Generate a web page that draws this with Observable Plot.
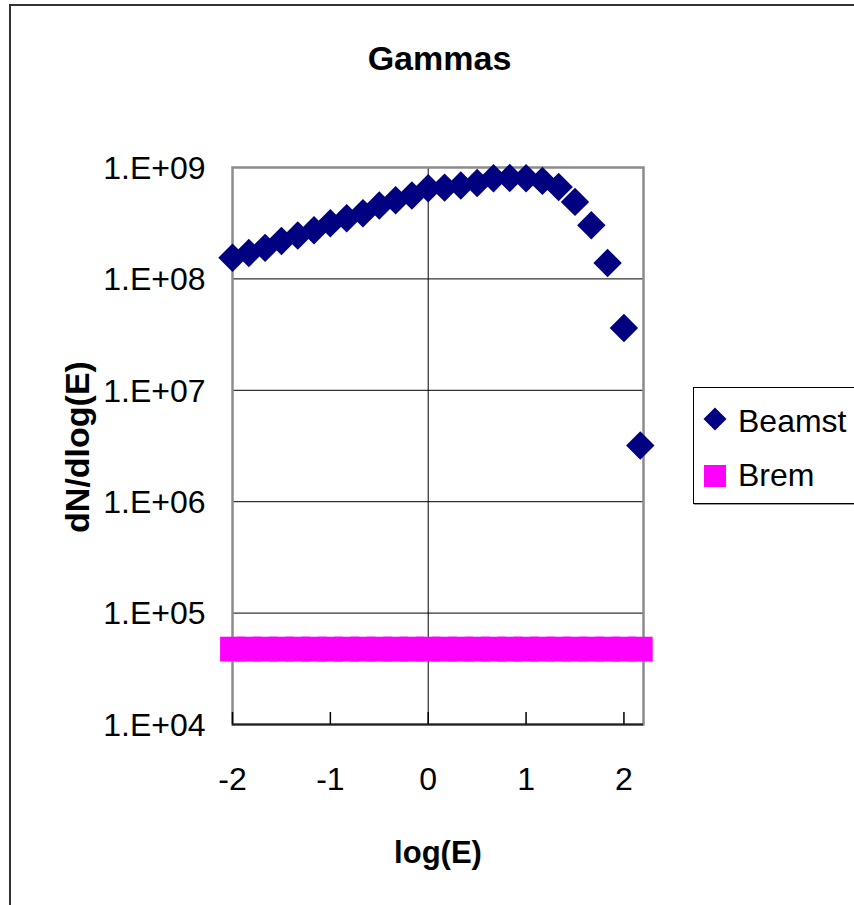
<!DOCTYPE html>
<html>
<head>
<meta charset="utf-8">
<script src="https://cdn.jsdelivr.net/npm/d3@7"></script>
<script src="https://cdn.jsdelivr.net/npm/@observablehq/plot@0.6"></script>
<style>
  html, body { margin: 0; padding: 0; background: #fff; overflow: hidden; }
  #page { position: relative; width: 854px; height: 905px; overflow: hidden;
          font-family: "Liberation Sans", Arial, Helvetica, sans-serif; }
  #outer { position: absolute; left: 9px; top: 4px; width: 900px; height: 960px;
           border: 2px solid #333; box-sizing: border-box; }
  #chart { position: absolute; left: 0; top: 0; }
  #title { position: absolute; left: 0; width: 879px; top: 41px; text-align: center;
           font-weight: bold; font-size: 34px; line-height: 1; color: #000; }
  #legend { position: absolute; left: 693px; top: 387px; width: 220px; height: 117px;
            border: 1px solid #000; box-sizing: border-box; background: #fff;
            box-shadow: 1px 1px 0 #999; }
  .lg-sym { position: absolute; }
  .lg-txt { position: absolute; left: 44px; font-size: 32px; line-height: 1; color: #000; white-space: nowrap; }
</style>
</head>
<body>
<div id="page">
  <div id="outer"></div>
  <div id="chart"></div>
  <div id="title"></div>
  <div id="legend"></div>
</div>
<script>
// ---- data ----
const titleText = "Gammas";
const xLabel = "log(E)";
const yLabel = "dN/dlog(E)";
const seriesNames = ["Beamst", "Brem"];
const seriesColors = ["#000080", "#ff00ff"];

const logE = [-2, -1.833, -1.667, -1.5, -1.333, -1.167, -1, -0.833, -0.667, -0.5, -0.333, -0.167,
              0, 0.167, 0.333, 0.5, 0.667, 0.833, 1, 1.167, 1.333, 1.5, 1.667, 1.833, 2, 2.167];
const beamst = [1.55e8, 1.71e8, 1.90e8, 2.19e8, 2.45e8, 2.73e8, 3.16e8, 3.50e8, 3.88e8, 4.56e8, 5.08e8, 5.60e8,
                6.52e8, 6.60e8, 6.89e8, 7.27e8, 8.01e8, 8.05e8, 8.00e8, 7.58e8, 6.69e8, 4.91e8, 3.03e8, 1.39e8, 3.62e7, 3.20e6];
const brem = [4.75e4, 4.75e4, 4.75e4, 4.75e4, 4.75e4, 4.75e4, 4.75e4, 4.75e4, 4.75e4, 4.75e4, 4.75e4, 4.75e4,
              4.75e4, 4.75e4, 4.75e4, 4.75e4, 4.75e4, 4.75e4, 4.75e4, 4.75e4, 4.75e4, 4.75e4, 4.75e4, 4.75e4, 4.75e4, 4.75e4];

const xTicks = [-2, -1, 0, 1, 2];
const yTicks = [1e4, 1e5, 1e6, 1e7, 1e8, 1e9];
const yGrid = [1e5, 1e6, 1e7, 1e8];

// ---- build ----
const beamRows = logE.map((x, i) => ({x, y: beamst[i]}));
const bremRows = logE.map((x, i) => ({x, y: brem[i]}));

const FONT = '"Liberation Sans", Arial, Helvetica, sans-serif';
const yFmt = d => "1.E+" + String(Math.round(Math.log10(d))).padStart(2, "0");
const xFmt = d => (d < 0 ? "-" + Math.abs(d) : String(d));

const plotH = 905 - 167 - 181;

const chart = Plot.plot({
  width: 854,
  height: 905,
  marginLeft: 232,
  marginRight: 211,
  marginTop: 167,
  marginBottom: 181,
  x: {domain: [-2, 2.2]},
  y: {type: "log", domain: [1e4, 1e9]},
  style: {fontFamily: FONT, background: "transparent", color: "#000"},
  marks: [
    Plot.gridY(yGrid, {stroke: "#000", strokeOpacity: 1, strokeWidth: 1}),
    Plot.ruleX([0], {stroke: "#000", strokeWidth: 1}),
    Plot.frame({stroke: "#8c8c8c", strokeWidth: 2.5}),
    Plot.ruleY([1e4], {stroke: "#222", strokeWidth: 2}),
    Plot.ruleX(xTicks, {stroke: "#000", strokeWidth: 1.5, insetTop: plotH - 12}),
    Plot.axisY({ticks: yTicks, tickFormat: yFmt, tickSize: 0, tickPadding: 27, fontSize: 32, dy: 1, label: null, fill: "#000"}),
    Plot.axisX({ticks: xTicks, tickFormat: xFmt, tickSize: 0, tickPadding: 43, fontSize: 32, label: null, fill: "#000"}),
    Plot.text([xLabel], {frameAnchor: "bottom", dy: 138, lineAnchor: "bottom", textAnchor: "middle", fontSize: 31, fontWeight: "bold", fill: "#000"}),
    Plot.text([yLabel], {frameAnchor: "left", dx: -144, dy: 1, rotate: -90, lineAnchor: "bottom", textAnchor: "middle", fontSize: 34, fontWeight: "bold", fill: "#000"}),
    Plot.dot(bremRows, {x: "x", y: "y", symbol: "square", r: 14, fill: seriesColors[1], stroke: "none"}),
    Plot.dot(beamRows, {x: "x", y: "y", symbol: "diamond2", r: 12.8, fill: seriesColors[0], stroke: "none"})
  ]
});
document.getElementById("chart").appendChild(chart);
document.getElementById("title").textContent = titleText;

// legend
const lg = document.getElementById("legend");
const symSvg = [
  `<svg width="24" height="24" viewBox="-12 -12 24 24"><path d="M0,-11.5L11.5,0L0,11.5L-11.5,0Z" fill="${seriesColors[0]}"/></svg>`,
  `<svg width="22" height="22"><rect width="22" height="22" fill="${seriesColors[1]}"/></svg>`
];
const symPos = [[9, 19], [10, 77]];
const txtTop = [17, 71];
seriesNames.forEach((name, i) => {
  const s = document.createElement("div");
  s.className = "lg-sym";
  s.style.left = symPos[i][0] + "px";
  s.style.top = symPos[i][1] + "px";
  s.innerHTML = symSvg[i];
  lg.appendChild(s);
  const t = document.createElement("div");
  t.className = "lg-txt";
  t.style.top = txtTop[i] + "px";
  t.textContent = name;
  lg.appendChild(t);
});
</script>
</body>
</html>
